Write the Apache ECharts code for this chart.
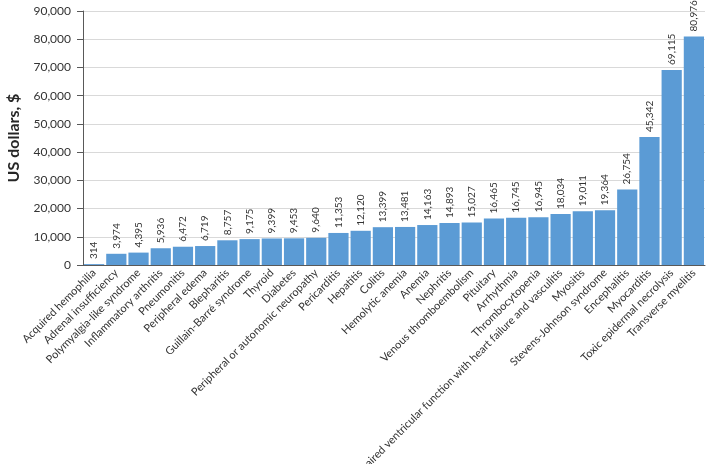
<!DOCTYPE html>
<html><head><meta charset="utf-8">
<script src="https://cdn.jsdelivr.net/npm/echarts@6/dist/echarts.min.js"></script>
<style>html,body{margin:0;padding:0;background:#fff}#c{width:709px;height:464px}</style>
</head><body><div id="c"></div>
<script>
var categories = ["Acquired hemophilia","Adrenal insufficiency","Polymyalgia-like syndrome","Inflammatory arthritis","Pneumonitis","Peripheral edema","Blepharitis","Guillain-Barré syndrome","Thyroid","Diabetes","Peripheral or autonomic neuropathy","Pericarditis","Hepatitis","Colitis","Hemolytic anemia","Anemia","Nephritis","Venous thromboembolism","Pituitary","Arrhythmia","Thrombocytopenia","Impaired ventricular function with heart failure and vasculitis","Myositis","Stevens-Johnson syndrome","Encephalitis","Myocarditis","Toxic epidermal necrolysis","Transverse myelitis"];
var values = [314,3974,4395,5936,6472,6719,8757,9175,9399,9453,9640,11353,12120,13399,13481,14163,14893,15027,16465,16745,16945,18034,19011,19364,26754,45342,69115,80976];
var yTicks = {min:0, max:90000, interval:10000};
var font = "Lato, 'Open Sans', sans-serif";
var chart = echarts.init(document.getElementById('c'), null, {renderer:'canvas'});
chart.setOption({
  animation:false,
  grid:{left:83, right:4, top:11, bottom:199, containLabel:false, outerBoundsMode:'none'},
  xAxis:{type:'category', data:categories,
    axisLine:{lineStyle:{color:'#595959', width:1}},
    axisTick:{alignWithLabel:true, length:6, lineStyle:{color:'#595959'}},
    axisLabel:{interval:0, rotate:45, fontSize:11, color:'#333333', fontFamily:font, margin:6}
  },
  yAxis:{type:'value', min:yTicks.min, max:yTicks.max, interval:yTicks.interval,
    name:'US dollars, $', nameLocation:'middle', nameGap:61,
    nameTextStyle:{fontSize:16, fontWeight:'bold', color:'#262626', fontFamily:font},
    axisLine:{show:true, lineStyle:{color:'#595959'}},
    axisTick:{show:true, length:6, lineStyle:{color:'#595959'}},
    axisLabel:{fontSize:12, color:'#333333', fontFamily:font, margin:12,
      formatter:function(v){return v.toLocaleString('en-US');}},
    splitLine:{lineStyle:{color:'#d9d9d9'}}
  },
  series:[{type:'bar', data:values, barCategoryGap:'9%',
    itemStyle:{color:'#5b9bd5'},
    label:{show:true, position:'top', rotate:90, align:'left', verticalAlign:'middle', distance:5,
      fontSize:10, color:'#333333', fontFamily:font,
      formatter:function(p){return p.value.toLocaleString('en-US');}}
  }]
});
</script></body></html>
